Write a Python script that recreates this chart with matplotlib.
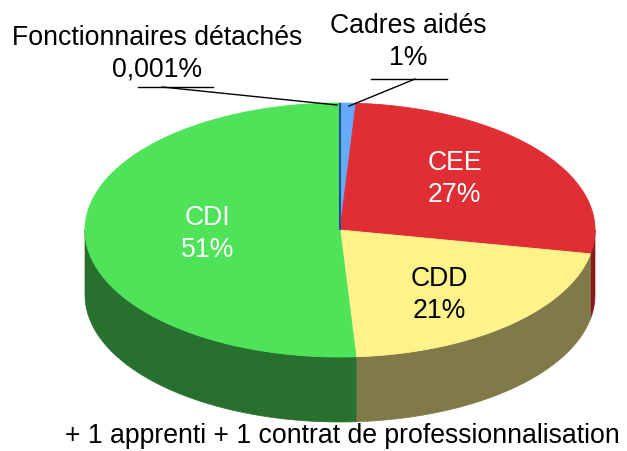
import numpy as np
import matplotlib
matplotlib.use("Agg")
import matplotlib.pyplot as plt
from matplotlib.patches import Polygon

plt.rcParams['font.family'] = ['Liberation Sans', 'DejaVu Sans']

# data, clockwise from 12 o'clock
labels = ["Fonctionnaires détachés", "Cadres aidés", "CEE", "CDD", "CDI"]
values = [0.001, 1, 27, 21, 51]
pct_text = ["0,001%", "1%", "27%", "21%", "51%"]
top_colors = ["#1f4e9a", "#66aaff", "#e02e35", "#fef38a", "#4fe35a"]
side_colors = ["#10285a", "#3a6aa8", "#8a1a20", "#807a48", "#27702e"]
label_colors = [None, None, "white", "black", "white"]
footnote = "+ 1 apprenti + 1 contrat de professionnalisation"

# geometry in pixels
cx, cy = 340, 230
rx, ry = 255, 127
depth = 65
lab_rx = [None, None, 0.57, 0.59, 0.52]
lab_ry = 0.67
fs = 19.2
pitch = 32


def pt(t, dy=0):
    t = np.radians(t)
    return cx + rx * np.sin(t), cy - ry * np.cos(t) + dy


fig = plt.figure(figsize=(6.27, 4.51), dpi=100)
ax = fig.add_axes([0, 0, 1, 1])
ax.set_xlim(0, 627)
ax.set_ylim(451, 0)
ax.axis('off')

total = sum(values)
bounds = np.concatenate([[0], np.cumsum(values) / total * 360])

# side walls (front half only: 90..270 deg)
for i in range(len(values)):
    a0, a1 = max(bounds[i], 90), min(bounds[i + 1], 270)
    if a1 <= a0:
        continue
    ts = np.linspace(a0, a1, 80)
    top = [pt(t) for t in ts]
    bot = [pt(t, depth) for t in ts[::-1]]
    ax.add_patch(Polygon(top + bot, closed=True, fc=side_colors[i], ec=side_colors[i], lw=0.5))

# top face
for i in range(len(values)):
    ts = np.linspace(bounds[i], bounds[i + 1], max(3, int(bounds[i + 1] - bounds[i]) * 2))
    poly = [(cx, cy)] + [pt(t) for t in ts]
    lw = 1.5 if values[i] < 0.5 else 0.6
    ax.add_patch(Polygon(poly, closed=True, fc=top_colors[i], ec=top_colors[i], lw=lw, zorder=3 if lw > 1 else 2))


def two_lines(x, y_base, l1, l2, color='black'):
    # y_base = baseline of first line
    ax.text(x, y_base, l1, ha='center', va='baseline', fontsize=fs, color=color, zorder=5)
    ax.text(x, y_base + pitch, l2, ha='center', va='baseline', fontsize=fs, color=color, zorder=5)


# inside labels
for i in range(2, len(values)):
    mid = np.radians((bounds[i] + bounds[i + 1]) / 2)
    x = cx + rx * lab_rx[i] * np.sin(mid)
    y = cy - ry * lab_ry * np.cos(mid)
    two_lines(x, y - 8, labels[i], pct_text[i], label_colors[i])

# outside labels with leader lines
two_lines(157, 45, labels[0], pct_text[0])
ax.plot([138, 213], [87, 87], color='black', lw=1)
x0, y0 = pt(bounds[0])
ax.plot([162, x0 - 3], [87, y0 + 2], color='black', lw=1)

two_lines(408, 33, labels[1], pct_text[1])
ax.plot([371, 447], [79, 79], color='black', lw=1)
x1, y1 = pt((bounds[1] + bounds[2]) / 2)
ax.plot([415, x1 + 1], [79, y1 + 3], color='black', lw=1, zorder=4)

ax.text(342, 443, footnote, ha='center', va='baseline', fontsize=fs)

fig.savefig("out.png", dpi=100)
